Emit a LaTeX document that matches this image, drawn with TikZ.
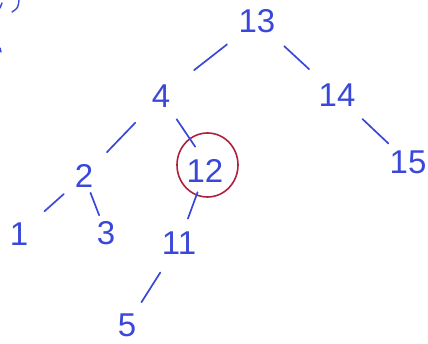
\documentclass[tikz,border=0pt]{standalone}
\usepackage{fontspec}
\setmainfont{Liberation Sans}
\usetikzlibrary{shapes.geometric}
\definecolor{ink}{RGB}{58,72,218}
\definecolor{redink}{RGB}{172,34,62}
\tikzset{
  num/.style={text=ink, font=\fontsize{33}{33}\selectfont, inner sep=0pt},
  edge/.style={draw=ink, line width=1.7pt, line cap=round},
  ring/.style={draw=redink, line width=1.6pt, ellipse, minimum width=61pt, minimum height=64pt}
}
\begin{document}
\begin{tikzpicture}[x=1pt,y=-1pt]
\useasboundingbox (0,0) rectangle (428,344);
\node[num] (n13) at (257,21) {13};
\node[num] (n4) at (161,96) {4};
\node[num] (n14) at (337,95) {14};
\node[num] (n15) at (408,162) {15};
\node[num] (n2) at (84,176) {2};
\node[num] (n12) at (205,171) {12};
\node[ring] (r12) at (207.5,165) {};
\node[num] (n1) at (19,234) {1};
\node[num] (n3) at (106,233) {3};
\node[num] (n11) at (179,243) {11};
\node[num] (n5) at (127,325) {5};
\draw[edge, shorten <=38pt, shorten >=42pt] (n13.center) -- (n4.center);
\draw[edge, shorten <=37pt, shorten >=38pt] (n13.center) -- (n14.center);
\draw[edge, shorten <=35pt, shorten >=27pt] (n14.center) -- (n15.center);
\draw[edge, shorten <=37pt, shorten >=33pt] (n4.center) -- (n2.center);
\draw[edge, shorten <=28pt, shorten >=22pt] (n4.center) -- (r12.center);
\draw[edge, shorten <=27pt, shorten >=34pt] (n2.center) -- (n1.center);
\draw[edge, shorten <=18pt, shorten >=19pt] (n2.center) -- (n3.center);
\draw[edge, shorten <=29pt, shorten >=26pt] (r12.center) -- (n11.center);
\draw[edge, shorten <=35pt, shorten >=27pt] (n11.center) -- (n5.center);
% fragments at the left edge
\draw[edge, line width=1.4pt] (12,12) .. controls (18,8) .. (19,0);
\draw[edge, line width=1.4pt] (0,8) -- (2,3);
\draw[edge, line width=1.4pt] (0,48) -- (1,52);
\end{tikzpicture}
\end{document}
